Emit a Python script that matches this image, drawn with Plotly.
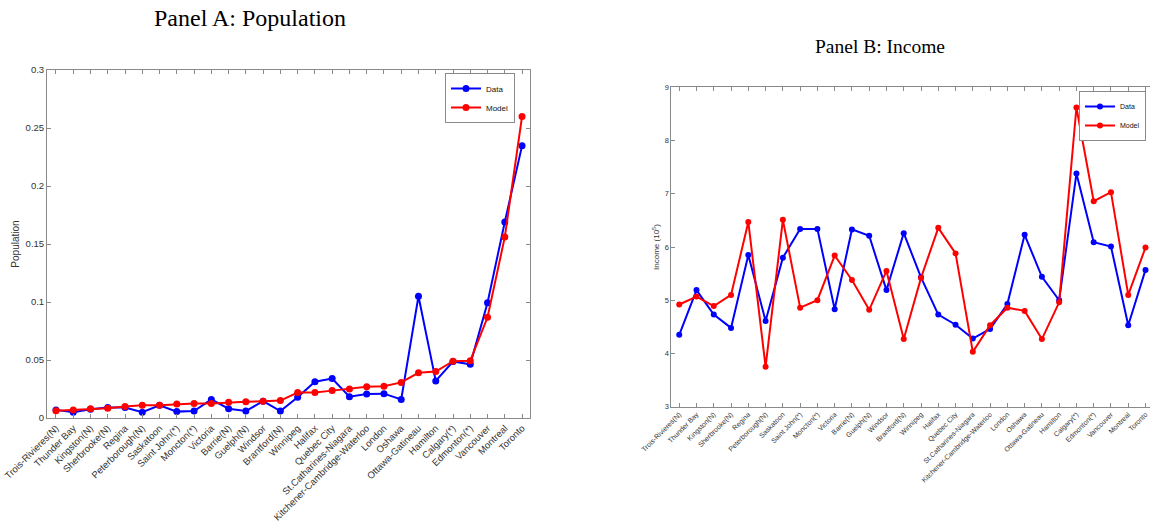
import plotly.graph_objects as go

cities = ["Trois-Rivieres(N)", "Thunder Bay", "Kingston(N)", "Sherbrooke(N)", "Regina",
          "Peterborough(N)", "Saskatoon", "Saint John(*)", "Moncton(*)", "Victoria",
          "Barrie(N)", "Guelph(N)", "Windsor", "Brantford(N)", "Winnipeg", "Halifax",
          "Quebec City", "St.Catharines-Niagara", "Kitchener-Cambridge-Waterloo", "London",
          "Oshawa", "Ottawa-Gatineau", "Hamilton", "Calgary(*)", "Edmonton(*)", "Vancouver",
          "Montreal", "Toronto"]

pop_data = [0.007, 0.005, 0.0075, 0.009, 0.009, 0.005, 0.011, 0.0055, 0.006, 0.016,
            0.008, 0.006, 0.0145, 0.006, 0.0178, 0.0313, 0.034, 0.0184, 0.0207, 0.021,
            0.016, 0.105, 0.032, 0.0486, 0.0463, 0.0994, 0.169, 0.2348]
pop_model = [0.0063, 0.007, 0.008, 0.0085, 0.010, 0.011, 0.011, 0.012, 0.0125, 0.0125,
             0.0135, 0.014, 0.0145, 0.015, 0.022, 0.022, 0.0236, 0.025, 0.027, 0.0273,
             0.0307, 0.039, 0.040, 0.049, 0.0494, 0.0868, 0.156, 0.260]

inc_data = [4.35, 5.19, 4.73, 4.48, 5.85, 4.61, 5.80, 6.34, 6.34, 4.83,
            6.33, 6.21, 5.19, 6.26, 5.43, 4.73, 4.54, 4.28, 4.46, 4.93,
            6.23, 5.44, 5.00, 7.38, 6.09, 6.01, 4.53, 5.57]
inc_model = [4.92, 5.07, 4.89, 5.10, 6.47, 3.75, 6.51, 4.86, 5.00, 5.84,
             5.38, 4.82, 5.55, 4.27, 5.42, 6.36, 5.88, 4.03, 4.53, 4.86,
             4.80, 4.27, 4.96, 8.62, 6.86, 7.03, 5.10, 5.99]

pop_ticks = [0, 0.05, 0.1, 0.15, 0.2, 0.25, 0.3]
pop_ticktext = ["0", "0.05", "0.1", "0.15", "0.2", "0.25", "0.3"]
inc_ticks = [3, 4, 5, 6, 7, 8, 9]

W, H = 1150, 523
idx = list(range(len(cities)))
BLUE, RED = "#0000FF", "#FF0000"
AX = "#8a8a8a"
TXT = "#333333"

fig = go.Figure()
fig.add_trace(go.Scatter(x=idx, y=pop_data, mode="lines+markers", name="Data",
                         line=dict(color=BLUE, width=2), marker=dict(size=7, color=BLUE),
                         xaxis="x", yaxis="y", legend="legend"))
fig.add_trace(go.Scatter(x=idx, y=pop_model, mode="lines+markers", name="Model",
                         line=dict(color=RED, width=2), marker=dict(size=7, color=RED),
                         xaxis="x", yaxis="y", legend="legend"))
fig.add_trace(go.Scatter(x=idx, y=inc_data, mode="lines+markers", name="Data",
                         line=dict(color=BLUE, width=2), marker=dict(size=6, color=BLUE),
                         xaxis="x2", yaxis="y2", legend="legend2"))
fig.add_trace(go.Scatter(x=idx, y=inc_model, mode="lines+markers", name="Model",
                         line=dict(color=RED, width=2), marker=dict(size=6, color=RED),
                         xaxis="x2", yaxis="y2", legend="legend2"))

base = dict(showgrid=False, zeroline=False, showline=True, linecolor=AX, linewidth=1,
            ticks="inside", tickcolor=AX, ticklen=4, automargin=False)

fig.update_layout(
    width=W, height=H, margin=dict(l=0, r=0, t=0, b=0, autoexpand=False),
    paper_bgcolor="white", plot_bgcolor="white",
    font=dict(family="Liberation Sans", color=TXT),
    xaxis=dict(domain=[47 / W, 530 / W], range=[-0.52, 27.46], tickvals=idx, ticktext=cities,
               tickangle=-45, mirror="ticks",
               tickfont=dict(size=9.5, family="Liberation Sans", color=TXT), **base),
    yaxis=dict(domain=[1 - 418 / H, 1 - 70 / H], range=[0, 0.3], tickvals=pop_ticks, ticktext=pop_ticktext,
               mirror="ticks", tickfont=dict(size=9.5, family="Liberation Sans", color=TXT),
               title=dict(text="Population", font=dict(size=10, color=TXT), standoff=4), **base),
    xaxis2=dict(domain=[671.3 / W, 1.0], range=[-0.46, 27.26], tickvals=idx, ticktext=cities,
                tickangle=-45, mirror="ticks", anchor="y2",
                tickfont=dict(size=7, family="Liberation Sans", color=TXT), **base),
    yaxis2=dict(domain=[1 - 406.7 / H, 1 - 87.3 / H], range=[3, 9], tickvals=inc_ticks,
                tickfont=dict(size=7.5, family="Liberation Sans", color=TXT), anchor="x2",
                title=dict(text="Income (10<sup>5</sup>)", font=dict(size=8, color=TXT), standoff=3),
                mirror=False, **base),
    legend=dict(x=515 / W, y=1 - 73 / H, xanchor="right", yanchor="top",
                bgcolor="white", bordercolor=AX, borderwidth=1,
                font=dict(size=8, color="#111"), tracegroupgap=0, itemwidth=30),
    legend2=dict(x=1146 / W, y=1 - 91 / H, xanchor="right", yanchor="top",
                 bgcolor="white", bordercolor=AX, borderwidth=1,
                 font=dict(size=7, color="#111"), tracegroupgap=0, itemwidth=30),
    annotations=[
        dict(text="Panel A: Population", x=250 / W, y=1 - 18 / H, xref="paper", yref="paper",
             showarrow=False, xanchor="center", yanchor="middle",
             font=dict(family="Liberation Serif", size=24, color="black")),
        dict(text="Panel B: Income", x=880 / W, y=1 - 46 / H, xref="paper", yref="paper",
             showarrow=False, xanchor="center", yanchor="middle",
             font=dict(family="Liberation Serif", size=19.5, color="black")),
    ],
)

fig.write_html("out.html", config={"displayModeBar": False},
               post_script="document.body.style.margin='0';")
